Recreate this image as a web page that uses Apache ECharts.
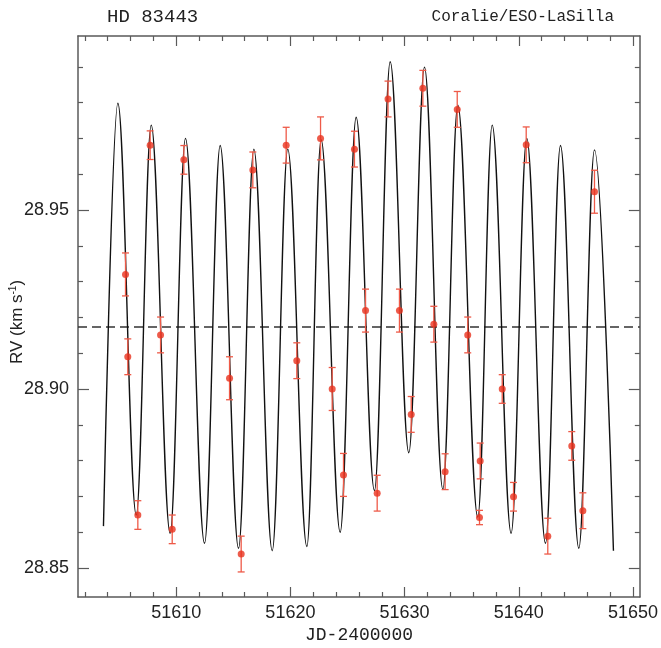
<!DOCTYPE html>
<html><head><meta charset="utf-8">
<script src="https://cdn.jsdelivr.net/npm/echarts@6/dist/echarts.min.js"></script>
<style>html,body{margin:0;padding:0;background:#fff}#c{width:661px;height:648px}</style>
</head><body><div id="c"></div>
<script>
// Observed radial velocities (km/s) with 1-sigma errors
const obsJD  = [51605.56,51605.76,51606.64,51607.72,51608.63,51609.65,51610.67,51614.67,51615.69,51616.71,51619.63,51620.56,51622.64,51623.66,51624.65,51625.61,51626.58,51627.60,51628.55,51629.55,51630.58,51631.60,51632.56,51633.55,51634.61,51635.53,51636.56,51636.62,51638.55,51639.54,51640.65,51642.54,51644.64,51645.61,51646.63];
const obsRV  = [28.9320,28.9090,28.8648,28.9681,28.9151,28.8608,28.9640,28.9030,28.8539,28.9612,28.9681,28.9079,28.9700,28.9000,28.8760,28.9670,28.9219,28.8709,28.9810,28.9219,28.8929,28.9840,28.9181,28.8769,28.9781,28.9151,28.8641,28.8799,28.9000,28.8699,28.9682,28.8589,28.8841,28.8660,28.9551];
const obsErr = [0.006,0.005,0.004,0.004,0.005,0.004,0.004,0.006,0.005,0.005,0.005,0.005,0.006,0.006,0.006,0.005,0.006,0.005,0.005,0.006,0.005,0.005,0.005,0.005,0.005,0.005,0.002,0.005,0.004,0.004,0.005,0.005,0.004,0.005,0.006];
// Orbital fit curve: start point, then alternating maxima and minima
const modelJD = [51603.63,51604.89,51606.50,51607.81,51609.47,51610.81,51612.48,51613.85,51615.46,51616.80,51618.41,51619.77,51621.44,51622.69,51624.36,51625.76,51627.36,51628.74,51630.37,51631.74,51633.35,51634.66,51636.41,51637.67,51639.33,51640.70,51642.34,51643.65,51645.26,51646.63,51648.29];
const modelRV = [28.8617,28.9798,28.8648,28.9737,28.8597,28.9700,28.8569,28.9680,28.8555,28.9670,28.8548,28.9670,28.8560,28.9696,28.8600,28.9759,28.8716,28.9914,28.8822,28.9899,28.8720,28.9793,28.8642,28.9737,28.8597,28.9700,28.8569,28.9680,28.8555,28.9668,28.8548];
const meanRV = 28.9173;
// Tick values
const xMajorTicks = [51610,51620,51630,51640,51650];
const xMinorTicks = [51602,51604,51606,51608,51612,51614,51616,51618,51622,51624,51626,51628,51632,51634,51636,51638,51642,51644,51646,51648];
const yMajorTicks = [28.85,28.90,28.95];
const yMinorTicks = [28.86,28.87,28.88,28.89,28.91,28.92,28.93,28.94,28.96,28.97,28.98,28.99];
const xRange = [51601.4, 51650.6];
const yRange = [28.8419, 28.9986];

const boxColor = '#5a5a5a';
const red = '#e8321e';
const errRed = '#ee5a48';

function mkX(pos, ticks, len, showLine, showLabel) {
  return {
    type: 'value', position: pos, min: xRange[0], max: xRange[1],
    axisLine: {show: showLine, onZero: false, lineStyle: {color: boxColor, width: 1.5}},
    axisTick: {show: true, inside: true, length: len, customValues: ticks, lineStyle: {color: boxColor, width: 1.2}},
    axisLabel: {show: showLabel, customValues: ticks, margin: 7, fontFamily: 'Liberation Sans', fontSize: 18, color: '#222',
      formatter: v => String(Math.round(v))},
    splitLine: {show: false}
  };
}
function mkY(pos, ticks, len, showLine, showLabel) {
  return {
    type: 'value', position: pos, min: yRange[0], max: yRange[1],
    axisLine: {show: showLine, onZero: false, lineStyle: {color: boxColor, width: 1.5}},
    axisTick: {show: true, inside: true, length: len, customValues: ticks, lineStyle: {color: boxColor, width: 1.2}},
    axisLabel: {show: showLabel, customValues: ticks, margin: 9, fontFamily: 'Liberation Sans', fontSize: 18, color: '#222',
      formatter: v => v.toFixed(2)},
    splitLine: {show: false}
  };
}

const chart = echarts.init(document.getElementById('c'), null, {renderer: 'canvas'});
chart.setOption({
  animation: false,
  backgroundColor: '#fff',
  grid: {left: 78, right: 21, top: 36, bottom: 51, containLabel: false},
  xAxis: [
    mkX('bottom', xMajorTicks, 10, true, true),
    mkX('bottom', xMinorTicks, 5, false, false),
    mkX('top', xMajorTicks, 10, true, false),
    mkX('top', xMinorTicks, 5, false, false)
  ],
  yAxis: [
    mkY('left', yMajorTicks, 11, true, true),
    mkY('left', yMinorTicks, 5, false, false),
    mkY('right', yMajorTicks, 11, true, false),
    mkY('right', yMinorTicks, 5, false, false)
  ],
  graphic: [
    {type: 'text', left: 107, top: 7, style: {text: 'HD 83443', font: '19px "Liberation Mono"', fill: '#222'}},
    {type: 'text', right: 47, top: 9, style: {text: 'Coralie/ESO-LaSilla', font: '16px "Liberation Mono"', fill: '#222'}},
    {type: 'text', x: 359, y: 635, style: {text: 'JD-2400000', font: '18px "Liberation Mono"', fill: '#222', align: 'center', verticalAlign: 'middle'}},
    {type: 'text', x: 17, y: 322, rotation: Math.PI / 2,
      style: {text: '{a|RV (km s}{s|-1}{a|)}', align: 'center', verticalAlign: 'middle', fill: '#222',
        rich: {a: {fontFamily: 'Liberation Sans', fontSize: 17, fill: '#222'},
               s: {fontFamily: 'Liberation Sans', fontSize: 10, fill: '#222', verticalAlign: 'top', padding: [0, 0, 8, 0]}}}}
  ],
  series: [
    {
      type: 'line', xAxisIndex: 0, yAxisIndex: 0,
      data: [[xRange[0], meanRV], [xRange[1], meanRV]],
      showSymbol: false, symbol: 'none', silent: true,
      lineStyle: {type: [9, 5], color: '#333', width: 1.5},
      z: 1
    },
    {
      type: 'line', xAxisIndex: 0, yAxisIndex: 0,
      data: modelJD.map((x, i) => [x, modelRV[i]]),
      smooth: 0.37, smoothMonotone: 'x', showSymbol: false, symbol: 'none',
      lineStyle: {color: '#111', width: 1.4},
      z: 2
    },
    {
      type: 'custom', xAxisIndex: 0, yAxisIndex: 0,
      data: obsJD.map((x, i) => [x, obsRV[i], obsErr[i]]),
      renderItem: function (params, api) {
        const x = api.value(0), y = api.value(1), e = api.value(2);
        const t = api.coord([x, y + e]);
        const b = api.coord([x, y - e]);
        const w = 3.5;
        const st = {stroke: errRed, lineWidth: 1.3};
        return {type: 'group', children: [
          {type: 'line', shape: {x1: t[0], y1: t[1], x2: b[0], y2: b[1]}, style: st},
          {type: 'line', shape: {x1: t[0] - w, y1: t[1], x2: t[0] + w, y2: t[1]}, style: st},
          {type: 'line', shape: {x1: b[0] - w, y1: b[1], x2: b[0] + w, y2: b[1]}, style: st}
        ]};
      },
      z: 3
    },
    {
      type: 'scatter', xAxisIndex: 0, yAxisIndex: 0,
      data: obsJD.map((x, i) => [x, obsRV[i]]),
      symbol: 'circle', symbolSize: 7,
      itemStyle: {color: red},
      z: 4
    }
  ]
});
</script>
</body></html>
